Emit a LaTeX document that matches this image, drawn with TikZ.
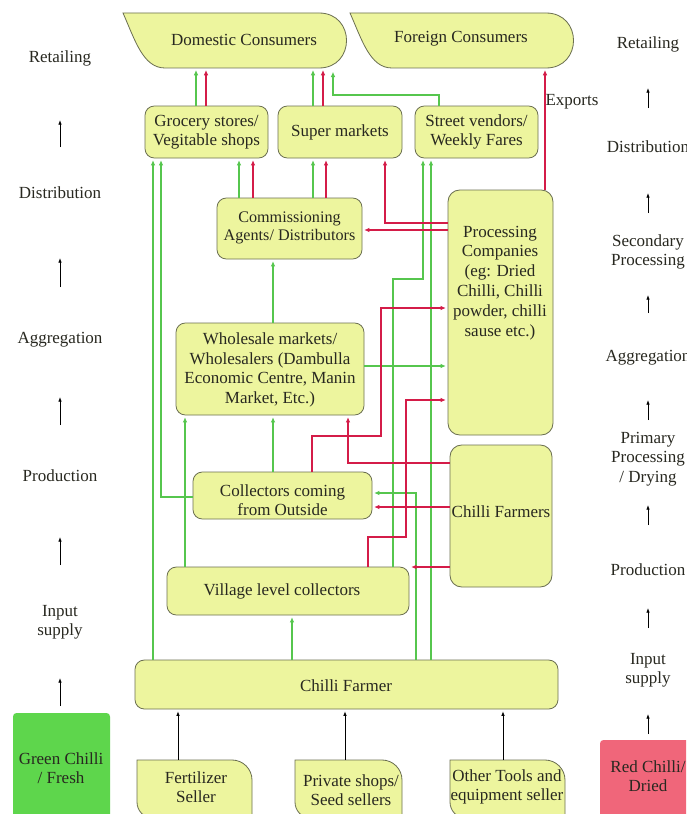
\documentclass[tikz,border=0pt]{standalone}
\usepackage{fontspec}
\setmainfont{Liberation Serif}
\usetikzlibrary{arrows.meta,fit}
\definecolor{boxfill}{RGB}{237,245,158}
\definecolor{boxline}{RGB}{108,112,82}
\definecolor{flowgreen}{RGB}{86,198,78}
\definecolor{flowred}{RGB}{212,28,72}
\definecolor{freshgreen}{RGB}{94,214,76}
\definecolor{driedred}{RGB}{240,102,122}
\definecolor{ink}{RGB}{40,40,32}
% outline of a seller card: square top-left, rounded top-right and bottom-left
\newcommand\sellercard[2]{%
  \path[draw=boxline, fill=boxfill, line width=0.7pt]
    (#1,760) -- ({#2-20},760) .. controls ({#2-9},760) and (#2,769) .. (#2,780)
    -- (#2,818) -- ({#1+16},818) .. controls ({#1+7},818) and (#1,811) .. (#1,802) -- cycle;}
\begin{document}
\begin{tikzpicture}[x=0.03cm,y=-0.03cm,
  txt/.style={font=\fontsize{14.5}{16.6}\selectfont, text=ink, align=center},
  box/.style={draw=boxline, fill=boxfill, line width=0.7pt, rounded corners=8pt, inner sep=0pt},
  area/.style={inner sep=0pt},
  g/.style={draw=flowgreen, line width=1pt, -{Latex[length=4.5pt,width=4pt]}, shorten >=1.5pt},
  r/.style={draw=flowred, line width=1pt, -{Latex[length=4.5pt,width=4pt]}, shorten >=1.5pt},
  blk/.style={draw=black, line width=0.7pt, -{Latex[length=4pt,width=3pt]}},
  input/.style={draw=black, line width=0.7pt, -{Latex[length=4pt,width=3pt]}, shorten >=1.5pt}]
\useasboundingbox (0,0) rectangle (686,814);
\clip (0,0) rectangle (686,814);
\fill[white] (0,0) rectangle (686,814);

% ---- consumers ----
\path[draw=boxline, fill=boxfill, line width=0.7pt]
  (123,13) -- (319,13) .. controls (355.7,13) and (355.7,68) .. (319,68)
  -- (165,68) .. controls (143,68) and (135,40) .. (123,13) -- cycle;
\path[draw=boxline, fill=boxfill, line width=0.7pt]
  (350,13) -- (546,13) .. controls (582.7,13) and (582.7,68) .. (546,68)
  -- (392,68) .. controls (370,68) and (362,40) .. (350,13) -- cycle;
\node[area, fit={(143,13) (346,68)}] (dom) {};
\node[area, fit={(350,13) (573,68)}] (fore) {};
\node[txt] (dom-t) at (244,40) {Domestic Consumers};
\node[txt] (fore-t) at (461,39) {Foreign Consumers};

% ---- retail level ----
\node[box, fit={(145,106) (268,158)}] (groc) {};
\node[box, fit={(278,106) (402,158)}] (super) {};
\node[box, fit={(415,106) (538,158)}] (street) {};
\node[txt] (groc-t) at (206.5,132) {Grocery stores/\\Vegitable shops};
\node[txt] (super-t) at (340,132) {Super markets};
\node[txt] (street-t) at (476.5,132) {Street vendors/\\Weekly Fares};

% ---- middle chain ----
\node[box, fit={(217,198) (362,259)}] (comm) {};
\node[txt, font=\fontsize{13.8}{15.4}\selectfont] (comm-t) at (289.5,228) {Commissioning\\Agents/ Distributors};
\node[box, rounded corners=10pt, fit={(448,190) (553,435)}] (proc) {};
\node[txt, font=\fontsize{14.5}{17}\selectfont] (proc-t) at (500,283) {Processing\\Companies\\(eg: Dried\\Chilli, Chilli\\powder, chilli\\sause etc.)};
\node[box, fit={(176,323) (364,415)}] (whole) {};
\node[txt] (whole-t) at (270,370) {Wholesale markets/\\Wholesalers (Dambulla\\Economic Centre, Manin\\Market, Etc.)};
\node[box, rounded corners=10pt, fit={(450,445) (552,587)}] (farmers) {};
\node[txt] (farmers-t) at (501,512) {Chilli Farmers};
\node[box, fit={(193,472) (372,519)}] (outside) {};
\node[txt] (outside-t) at (282.5,500) {Collectors coming\\from Outside};
\node[box, fit={(167,567) (409,615)}] (village) {};
\node[txt] (village-t) at (282,591) {Village level collectors};
\node[box, fit={(135,660) (558,709)}] (farmer) {};
\node[txt] (farmer-t) at (346,686) {Chilli Farmer};

% ---- input suppliers ----
\sellercard{137}{252}
\sellercard{295}{402}
\sellercard{450}{565}
\node[area, fit={(137,760) (252,816)}] (fert) {};
\node[area, fit={(295,760) (402,816)}] (seed) {};
\node[area, fit={(450,760) (565,816)}] (tools) {};
\node[txt] (fert-t) at (196,787) {Fertilizer\\Seller};
\node[txt] (seed-t) at (351,790) {Private shops/\\Seed sellers};
\node[txt] (tools-t) at (507,787) {Other Tools and\\equipment seller};

% ---- product type tags ----
\node[fill=freshgreen, rounded corners=3pt, area, fit={(13,713) (110,830)}] (fresh) {};
\node[txt] (fresh-t) at (61,768) {Green Chilli\\/ Fresh};
\node[fill=driedred, rounded corners=3pt, area, fit={(600,740) (700,830)}] (dried) {};
\node[txt] (dried-t) at (648,776) {Red Chilli/\\Dried};

% ---- stage labels, fresh chain ----
\node[txt] (lret) at (60,58) {Retailing};
\node[txt] (ldis) at (60,193) {Distribution};
\node[txt] (lagg) at (60,340) {Aggregation};
\node[txt] (lpro) at (60,476) {Production};
\node[txt] (linp) at (60,622) {Input\\supply};
\draw[blk] (lret |- 0,147) -- (lret |- 0,120);
\draw[blk] (lret |- 0,287) -- (lret |- 0,258);
\draw[blk] (lret |- 0,425) -- (lret |- 0,397);
\draw[blk] (lret |- 0,565) -- (lret |- 0,537);
\draw[blk] (lret |- 0,706) -- (lret |- 0,678);

% ---- stage labels, dried chain ----
\node[txt] (rret) at (648,44) {Retailing};
\node[txt] (rdis) at (648,147) {Distribution};
\node[txt] (rsec) at (648,252) {Secondary\\Processing};
\node[txt] (ragg) at (648,358) {Aggregation};
\node[txt] (rpri) at (648,459) {Primary\\Processing\\/ Drying};
\node[txt] (rpro) at (648,570) {Production};
\node[txt] (rinp) at (648,670) {Input\\supply};
\draw[blk] (rret |- 0,108) -- (rret |- 0,88);
\draw[blk] (rret |- 0,213) -- (rret |- 0,193);
\draw[blk] (rret |- 0,313) -- (rret |- 0,295);
\draw[blk] (rret |- 0,420) -- (rret |- 0,400);
\draw[blk] (rret |- 0,525) -- (rret |- 0,505);
\draw[blk] (rret |- 0,628) -- (rret |- 0,608);
\draw[blk] (rret |- 0,734) -- (rret |- 0,714);

\node[txt] (exports) at (572,102) {Exports};

% ---- inputs to the farmer ----
\draw[input] (178,0 |- fert.north) -- (178,0 |- farmer.south);
\draw[input] (345,0 |- seed.north) -- (345,0 |- farmer.south);
\draw[input] (503,0 |- tools.north) -- (503,0 |- farmer.south);

% ---- green chilli flows ----
\draw[g] (196,0 |- groc.north) -- (196,0 |- dom.south);
\draw[g] (313,0 |- super.north) -- (313,0 |- dom.south);
\draw[g] (439,0 |- street.north) |- (333,95) -- (333,70);
\draw[g] (153,0 |- farmer.north) -- (153,0 |- groc.south);
\draw[g] (outside.west |- 0,497) -| (161,0 |- groc.south);
\draw[g] (239,0 |- comm.north) -- (239,0 |- groc.south);
\draw[g] (313,0 |- comm.north) -- (313,0 |- super.south);
\draw[g] (393,0 |- village.north) |- (423,279) -- (423,0 |- street.south);
\draw[g] (431,0 |- farmer.north) -- (431,0 |- street.south);
\draw[g] (273,0 |- whole.north) -- (273,0 |- comm.south);
\draw[g] (whole.east |- 0,366) -- (proc.west |- 0,366);
\draw[g] (273,0 |- outside.north) -- (273,0 |- whole.south);
\draw[g] (185,0 |- village.north) -- (185,0 |- whole.south);
\draw[g] (416,0 |- farmer.north) |- (outside.east |- 0,493);
\draw[g] (292,0 |- farmer.north) -- (292,0 |- village.south);

% ---- red chilli flows ----
\draw[r] (206,0 |- groc.north) -- (206,0 |- dom.south);
\draw[r] (323,0 |- super.north) -- (323,0 |- dom.south);
\draw[r] (545,0 |- proc.north) -- (545,0 |- fore.south);
\draw[r] (253,0 |- comm.north) -- (253,0 |- groc.south);
\draw[r] (326,0 |- comm.north) -- (326,0 |- super.south);
\draw[r] (proc.west |- 0,223) -| (385,0 |- super.south);
\draw[r] (proc.west |- 0,230) -- (comm.east |- 0,230);
\draw[r] (312,0 |- outside.north) |- (381,436) |- (proc.west |- 0,308);
\draw[r] (368,0 |- village.north) |- (406,537) |- (proc.west |- 0,400);
\draw[r] (farmers.west |- 0,463) -| (348,0 |- whole.south);
\draw[r] (farmers.west |- 0,507) -- (outside.east |- 0,507);
\draw[r] (farmers.west |- 0,567) -- (village.east |- 0,567);
\end{tikzpicture}
\end{document}
